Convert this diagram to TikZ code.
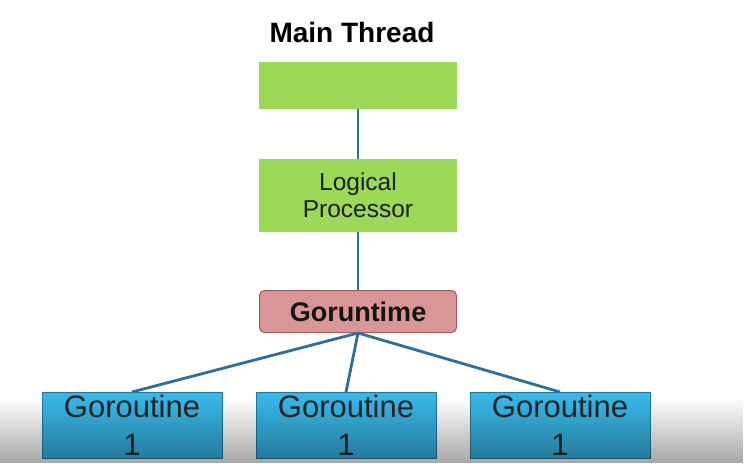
\documentclass[tikz,border=0pt]{standalone}
\usepackage{fontspec}
\setmainfont{Liberation Sans}
\usetikzlibrary{fadings}
\definecolor{boxgreen}{RGB}{155,217,87}
\definecolor{linkblue}{RGB}{46,110,158}
\definecolor{rtfill}{RGB}{217,150,150}
\definecolor{rtdraw}{RGB}{160,90,95}
\definecolor{grfill}{RGB}{56,182,230}
\definecolor{grdraw}{RGB}{30,120,160}
\tikzset{
  greenbox/.style={rectangle, fill=boxgreen, minimum width=198pt, inner sep=0pt, align=center, text=black!88,
    font=\fontsize{24.5}{27}\selectfont},
  rtbox/.style={rectangle, rounded corners=5pt, fill=rtfill, draw=rtdraw, line width=1pt, minimum width=197pt,
    minimum height=42pt, inner sep=0pt, font=\bfseries\fontsize{27}{30}\selectfont, text=black!92},
  grbox/.style={rectangle, fill=grfill, draw=grdraw, line width=1pt, minimum width=180pt, minimum height=66pt,
    inner sep=0pt, align=center, font=\fontsize{31}{38}\selectfont, text=black!85},
  link/.style={draw=linkblue, line width=2.8pt},
  titlefont/.style={font=\bfseries\fontsize{28}{32}\selectfont}
}
\begin{document}
\begin{tikzpicture}[x=1pt,y=-1pt]
\useasboundingbox[fill=white] (0,0) rectangle (744,463);
\node[titlefont, anchor=base] (title) at (352,42) {Main Thread};
\node[greenbox, minimum height=47pt, anchor=north] (thread) at (358,62) {};
\node[greenbox, minimum height=73pt, anchor=north] (lp) at (358,159) {Logical\\Processor};
\node[rtbox, anchor=north] (rt) at (358,290) {Goruntime};
\node[grbox, anchor=north] (g1) at (132,392) {Goroutine\\1};
\node[grbox, anchor=north] (g2) at (346,392) {Goroutine\\1};
\node[grbox, anchor=north] (g3) at (560,392) {Goroutine\\1};
\draw[link] (thread.south) -- (lp.north);
\draw[link] (lp.south) -- (rt.north);
\draw[link] (rt.south) -- (g1.north);
\draw[link] (rt.south) -- (g2.north);
\draw[link] (rt.south) -- (g3.north);
\fill[black, opacity=0.35, path fading=north] (0,398) rectangle (744,463);
\end{tikzpicture}
\end{document}
